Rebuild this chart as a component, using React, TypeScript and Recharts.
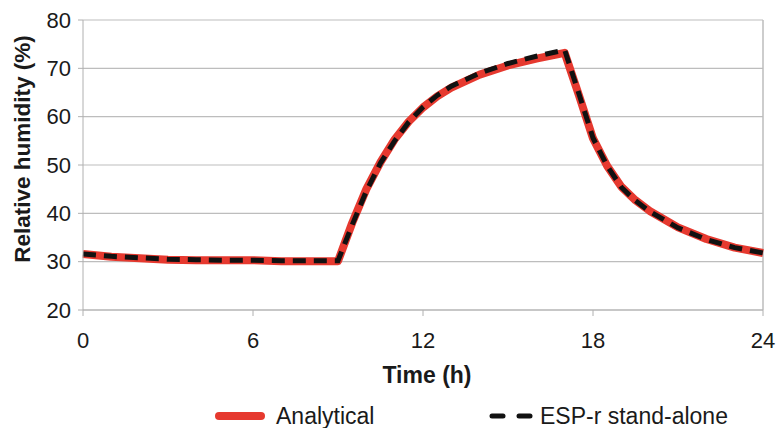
import React from "react";
import { LineChart, Line, XAxis, YAxis, CartesianGrid, ReferenceLine } from "recharts";

const hours = [0, 1, 2, 3, 4, 5, 6, 7, 8, 9, 9.5, 10, 10.5, 11, 11.5, 12, 12.5, 13, 14, 15, 16, 17, 17.5, 18, 18.5, 19, 19.5, 20, 21, 22, 23, 24];
const analytical = [31.6, 31.0, 30.7, 30.4, 30.3, 30.3, 30.3, 30.1, 30.1, 30.1, 38.0, 45.0, 50.6, 55.3, 59.0, 61.9, 64.2, 66.0, 68.7, 70.6, 72.0, 73.2, 64.5, 55.5, 49.8, 45.5, 42.7, 40.5, 37.1, 34.7, 32.9, 31.8];
const esp = [31.6, 31.1, 30.8, 30.5, 30.4, 30.3, 30.3, 30.2, 30.2, 30.2, 37.6, 44.6, 50.4, 55.0, 58.9, 62.0, 64.4, 66.3, 69.0, 71.0, 72.5, 73.8, 64.8, 55.6, 49.8, 45.4, 42.6, 40.4, 37.0, 34.6, 32.9, 31.8];
const xTicks = [0, 6, 12, 18, 24];
const yTicks = [20, 30, 40, 50, 60, 70, 80];

const data = hours.map((h, i) => ({ h, a: analytical[i], e: esp[i] }));

const FONT = "Liberation Sans, Arial, sans-serif";
const RED = "#e6392f";

export default function App() {
  return (
    <div style={{ position: "absolute", left: 0, top: 0, width: 782, height: 428, background: "#fff" }}>
      <LineChart width={782} height={428} data={data} margin={{ top: 20, right: 19, bottom: 88, left: 22 }}>
        <CartesianGrid horizontal vertical={false} stroke="#bdbdbd" strokeWidth={1.2} />
        <XAxis
          dataKey="h"
          type="number"
          domain={[0, 24]}
          ticks={xTicks}
          height={30}
          stroke="#b0b0b0"
          tickSize={6}
          tickMargin={16}
          tick={{ fill: "#1a1a1a", fontSize: 22, fontFamily: FONT }}
        />
        <YAxis
          type="number"
          domain={[20, 80]}
          ticks={yTicks}
          width={61}
          stroke="#b0b0b0"
          tickSize={5}
          tickMargin={7}
          tick={{ fill: "#1a1a1a", fontSize: 22, fontFamily: FONT }}
        />
        <ReferenceLine x={24} stroke="#bdbdbd" strokeWidth={1.5} />
        <Line type="linear" dataKey="a" stroke={RED} strokeWidth={8} dot={false} isAnimationActive={false} strokeLinejoin="round" />
        <Line type="linear" dataKey="e" stroke="#111" strokeWidth={5} strokeDasharray="13 8" dot={false} isAnimationActive={false} />
        <text x={427} y={383} textAnchor="middle" fontFamily={FONT} fontSize={23} fontWeight="bold" fill="#1a1a1a">Time (h)</text>
        <text x={30} y={149} textAnchor="middle" transform="rotate(-90 30 149)" fontFamily={FONT} fontSize={22.5} fontWeight="bold" fill="#1a1a1a">Relative humidity (%)</text>
        <line x1={219} y1={416} x2={261} y2={416} stroke={RED} strokeWidth={8} strokeLinecap="round" />
        <text x={276} y={424} fontFamily={FONT} fontSize={23} fill="#1a1a1a">Analytical</text>
        <line x1={492} y1={416} x2={503} y2={416} stroke="#111" strokeWidth={5} strokeLinecap="round" />
        <line x1={519} y1={416} x2={530} y2={416} stroke="#111" strokeWidth={5} strokeLinecap="round" />
        <text x={540} y={424} fontFamily={FONT} fontSize={23} fill="#1a1a1a">ESP-r stand-alone</text>
      </LineChart>
    </div>
  );
}
